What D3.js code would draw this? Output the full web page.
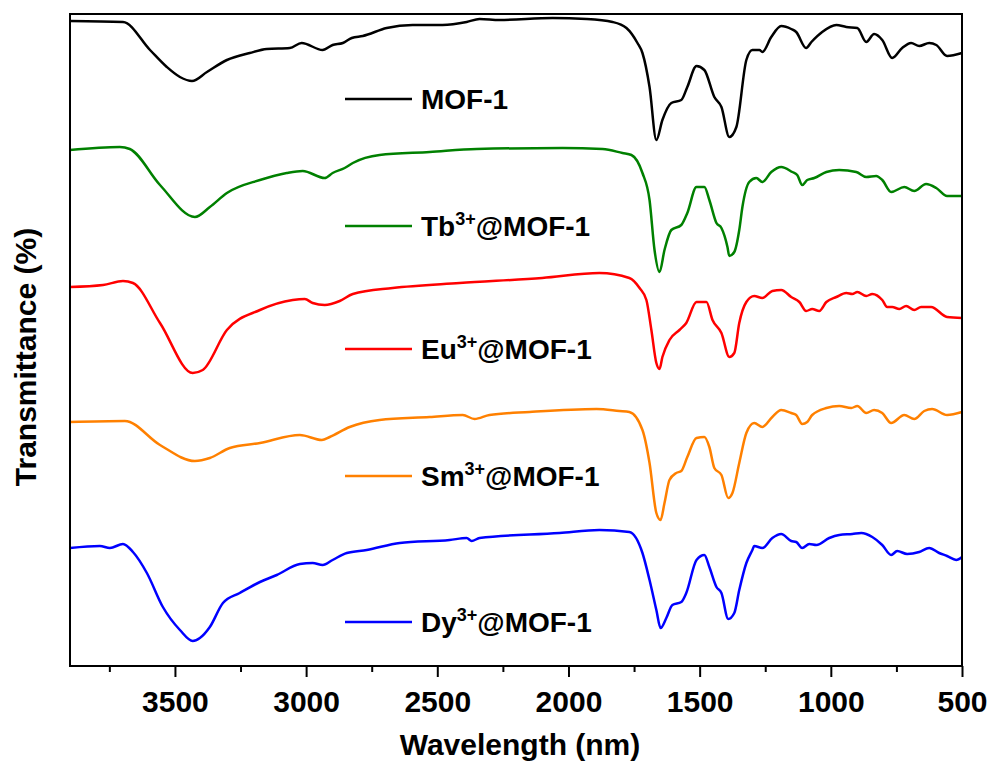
<!DOCTYPE html>
<html>
<head>
<meta charset="utf-8">
<script src="https://cdn.jsdelivr.net/npm/d3@7"></script>
<style>
  body { margin: 0; background: #fff; }
  text { font-family: Arial, "Liberation Sans", sans-serif; font-weight: bold; fill: #000; }
</style>
</head>
<body>
<div id="chart"></div>
<script>
// IR spectra, [wavenumber, transmittance (a.u., stacked)]
const mof1 = [[3900,645],[3698,644],[3595,616],[3531,599],[3481,589],[3435,585],[3378,594],[3302,606],[3215,613],[3150,617],[3062,618],[3017,623],[2937,616],[2899,621],[2860,623],[2826,628],[2784,630],[2693,638],[2594,641],[2480,641],[2388,644],[2339,647],[2263,646],[2061,648],[1931,647],[1832,644],[1779,638],[1737,623],[1718,613],[1691,579],[1665,526],[1642,546],[1608,563],[1570,566],[1547,579],[1512,600],[1482,596],[1444,569],[1417,559],[1387,529],[1360,539],[1322,606],[1299,616],[1272,616],[1261,614],[1227,629],[1189,640],[1151,637],[1132,634],[1094,618],[1074,624],[1033,634],[979,641],[941,639],[899,638],[865,624],[835,632],[804,626],[766,608],[728,618],[694,623],[663,620],[625,623],[598,621],[557,610],[500,613]];

const tbMof = [[3900,516],[3710,519],[3672,517],[3557,481],[3424,449],[3367,459],[3302,473],[3176,486],[3074,493],[3013,495],[2929,488],[2899,493],[2853,498],[2822,503],[2720,511],[2529,514],[2350,517],[2023,518],[1870,517],[1794,513],[1760,511],[1718,493],[1691,466],[1672,416],[1653,394],[1634,416],[1608,436],[1570,441],[1547,453],[1512,479],[1482,479],[1463,466],[1436,443],[1417,438],[1394,419],[1387,410],[1368,414],[1349,436],[1337,459],[1311,484],[1284,488],[1261,484],[1227,494],[1189,499],[1147,494],[1128,491],[1109,481],[1090,486],[1063,488],[1017,494],[968,496],[903,494],[865,489],[827,490],[804,486],[770,474],[720,479],[682,475],[637,482],[598,478],[557,470],[500,470]];

const euMof = [[3900,379],[3774,381],[3698,385],[3660,383],[3557,343],[3432,293],[3394,296],[3302,336],[3176,356],[3051,366],[3005,367],[2975,363],[2929,361],[2872,365],[2822,372],[2670,378],[2415,383],[2100,388],[1882,393],[1768,388],[1729,378],[1703,366],[1684,336],[1665,303],[1653,297],[1642,309],[1615,326],[1577,336],[1551,343],[1512,364],[1474,364],[1451,346],[1417,333],[1387,309],[1368,313],[1349,343],[1322,364],[1292,370],[1261,368],[1223,375],[1189,376],[1151,369],[1120,364],[1094,355],[1071,357],[1044,355],[1017,364],[979,369],[941,373],[918,372],[899,374],[865,370],[842,372],[804,366],[785,359],[766,359],[739,357],[713,360],[682,356],[656,359],[618,359],[557,349],[500,348]];

const smMof = [[3900,244],[3691,245],[3557,221],[3424,205],[3367,208],[3291,218],[3176,223],[3024,231],[2940,226],[2910,229],[2834,239],[2720,246],[2529,249],[2403,251],[2358,247],[2301,251],[2148,254],[1893,257],[1806,255],[1768,254],[1718,236],[1691,203],[1665,153],[1649,146],[1634,163],[1615,186],[1589,193],[1570,195],[1547,209],[1512,228],[1482,229],[1463,219],[1444,198],[1417,191],[1391,168],[1375,173],[1349,203],[1322,233],[1292,243],[1261,239],[1223,249],[1189,256],[1151,253],[1132,251],[1109,242],[1090,244],[1071,251],[1017,258],[968,260],[922,258],[899,260],[865,253],[835,256],[804,253],[770,243],[720,251],[682,247],[644,255],[614,257],[557,251],[500,254]];

const dyMof = [[3900,118],[3786,120],[3748,118],[3698,122],[3660,114],[3607,93],[3546,59],[3481,36],[3432,25],[3405,28],[3367,39],[3317,63],[3253,73],[3176,84],[3112,91],[3024,102],[2975,103],[2937,101],[2899,106],[2845,113],[2769,116],[2643,123],[2453,126],[2388,128],[2369,125],[2339,128],[2034,133],[1882,136],[1768,134],[1718,113],[1691,86],[1665,56],[1649,38],[1627,48],[1604,61],[1570,64],[1551,73],[1512,106],[1482,111],[1463,99],[1436,79],[1417,73],[1391,47],[1368,53],[1349,76],[1322,103],[1299,116],[1292,120],[1261,118],[1223,128],[1189,132],[1151,125],[1132,124],[1109,118],[1082,122],[1055,121],[1006,128],[968,131],[918,132],[884,133],[842,129],[804,121],[770,111],[747,115],[709,112],[663,114],[625,118],[587,113],[557,110],[522,106],[500,109]];

const seriesNames = ["MOF-1", "Tb", "Eu", "Sm", "Dy"];
const seriesColors = ["#000000", "#008000", "#ff0000", "#ff8000", "#0000ff"];
const seriesData = [mof1, tbMof, euMof, smMof, dyMof];
// legend rows sit at these transmittance levels
const legendLevels = [567, 440, 317, 190, 44];

const majorTicks = [3500, 3000, 2500, 2000, 1500, 1000, 500];
const minorTicks = [3750, 3250, 2750, 2250, 1750, 1250, 750];

const margin = { top: 14, right: 30, bottom: 99, left: 70 };
const width = 992 - margin.left - margin.right;
const height = 765 - margin.top - margin.bottom;

const svg = d3.select("#chart").append("svg")
    .attr("width", 992)
    .attr("height", 765)
    .append("g")
    .attr("transform", `translate(${margin.left},${margin.top})`);

const x = d3.scaleLinear().domain([3900, 500]).range([0, width]);
const y = d3.scaleLinear().domain([0, 652]).range([height, 0]);

// spectra
const line = d3.line()
    .x(d => x(d[0]))
    .y(d => y(d[1]))
    .curve(d3.curveMonotoneX);

svg.append("g").attr("class", "spectra")
    .selectAll("path")
    .data(seriesData)
    .enter()
    .append("path")
    .attr("d", d => line(d.slice().reverse()))
    .attr("fill", "none")
    .attr("stroke", (d, i) => seriesColors[i])
    .attr("stroke-width", 2.5)
    .attr("stroke-linejoin", "round");

// axes
const xAxis = d3.axisBottom(x).tickValues(majorTicks).tickSize(11).tickPadding(14).tickFormat(d3.format("d"));
const xMinor = d3.axisBottom(x).tickValues(minorTicks).tickSize(6).tickFormat("");

const gx = svg.append("g").attr("transform", `translate(0,${height})`).call(xAxis);
gx.selectAll("text").style("font-size", "30px");
gx.select(".domain").remove();
gx.selectAll("line").attr("stroke-width", 2);

const gxm = svg.append("g").attr("transform", `translate(0,${height})`).call(xMinor);
gxm.select(".domain").remove();
gxm.selectAll("line").attr("stroke-width", 2);

// frame
svg.append("rect")
    .attr("x", 0).attr("y", 0)
    .attr("width", width).attr("height", height)
    .attr("fill", "none")
    .attr("stroke", "#000")
    .attr("stroke-width", 2);

// axis titles
svg.append("text")
    .attr("x", 450)
    .attr("y", height + 89)
    .attr("text-anchor", "middle")
    .style("font-size", "30px")
    .text("Wavelength (nm)");

svg.append("text")
    .attr("transform", `translate(${-34},${357 - margin.top}) rotate(-90)`)
    .attr("text-anchor", "middle")
    .style("font-size", "30px")
    .text("Transmittance (%)");

// legend
const legend = svg.append("g").attr("class", "legend")
    .selectAll("g")
    .data(seriesNames)
    .enter()
    .append("g")
    .attr("transform", (d, i) => `translate(275,${y(legendLevels[i])})`);

legend.append("line")
    .attr("x1", 0).attr("x2", 67)
    .attr("stroke", (d, i) => seriesColors[i])
    .attr("stroke-width", 2.5);

const lt = legend.append("text")
    .attr("x", 76)
    .attr("y", 10)
    .style("font-size", "28px");

lt.each(function (d) {
    const t = d3.select(this);
    if (d === "MOF-1") {
        t.text(d);
    } else {
        t.append("tspan").text(d);
        t.append("tspan").attr("dy", -11).style("font-size", "18px").text("3+");
        t.append("tspan").attr("dy", 11).text("@MOF-1");
    }
});
</script>
</body>
</html>
